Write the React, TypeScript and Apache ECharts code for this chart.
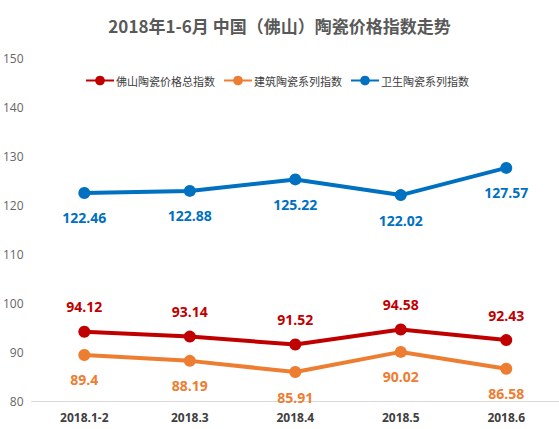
import React, { useEffect, useRef } from "react";
import * as echarts from "echarts";

const categories = ["2018.1-2", "2018.3", "2018.4", "2018.5", "2018.6"];
const totalIndex = [94.12, 93.14, 91.52, 94.58, 92.43];
const buildingIndex = [89.4, 88.19, 85.91, 90.02, 86.58];
const sanitaryIndex = [122.46, 122.88, 125.22, 122.02, 127.57];
const seriesNames = ["佛山陶瓷价格总指数", "建筑陶瓷系列指数", "卫生陶瓷系列指数"];

const cjk = "'Noto Sans CJK SC', 'Noto Sans', sans-serif";

const App: React.FC = () => {
  const chartRef = useRef<HTMLDivElement>(null);

  useEffect(() => {
    document.body.style.margin = "0";
    if (!chartRef.current) return;
    const chart = echarts.init(chartRef.current, undefined, { renderer: "svg" });

    const makeSeries = (
      name: string,
      data: number[],
      color: string,
      position: "top" | "bottom"
    ) => ({
      name,
      type: "line",
      data,
      symbol: "circle",
      symbolSize: 12,
      lineStyle: { width: 4, color },
      itemStyle: { color },
      label: {
        show: true,
        position,
        distance: 12,
        color,
        fontSize: 14,
        fontWeight: "bold",
        fontFamily: "'Open Sans', sans-serif",
      },
    });

    const option = {
      animation: false,
      title: {
        text: "2018年1-6月 中国（佛山）陶瓷价格指数走势",
        left: "center",
        top: 12,
        textStyle: {
          fontSize: 17,
          fontWeight: "bold",
          color: "#595959",
          fontFamily: cjk,
        },
      },
      legend: {
        top: 70,
        left: 80,
        itemWidth: 28,
        itemHeight: 12,
        itemGap: 8,
        data: seriesNames,
        textStyle: { fontSize: 11, color: "#404040", fontFamily: cjk, padding: [0, 0, 0, -3] },
      },
      grid: { left: 28, top: 58, width: 550, bottom: 28 },
      xAxis: {
        type: "category",
        data: categories,
        axisTick: { show: false },
        axisLine: { lineStyle: { color: "#d9d9d9" } },
        axisLabel: {
          color: "#404040",
          fontSize: 12,
          fontWeight: "bold",
          margin: 10,
          fontFamily: "'Open Sans', sans-serif",
        },
      },
      yAxis: {
        type: "value",
        min: 80,
        max: 150,
        interval: 10,
        splitLine: { show: false },
        axisLine: { show: false },
        axisTick: { show: false },
        axisLabel: {
          color: "#666666",
          fontSize: 12,
          margin: 8,
          fontFamily: "'Open Sans', sans-serif",
        },
      },
      series: [
        makeSeries(seriesNames[0], totalIndex, "#C00000", "top"),
        makeSeries(seriesNames[1], buildingIndex, "#ED7D31", "bottom"),
        makeSeries(seriesNames[2], sanitaryIndex, "#0070C0", "bottom"),
      ],
    };
    chart.setOption(option);
    return () => chart.dispose();
  }, []);

  return <div ref={chartRef} style={{ width: 559, height: 429 }} />;
};

export default App;
